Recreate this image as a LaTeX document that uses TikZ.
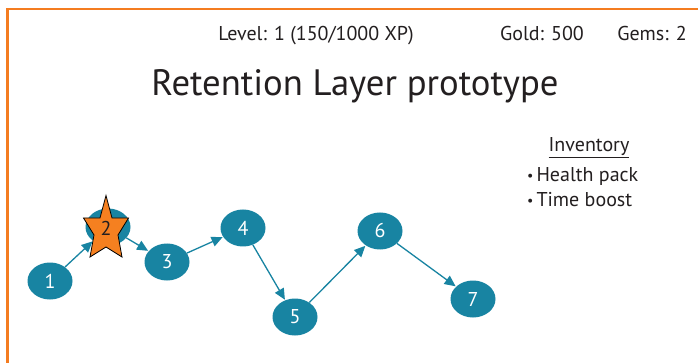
\documentclass[tikz,border=0pt]{standalone}
\usepackage{fontspec}
\setmainfont{PT Sans}
\usetikzlibrary{arrows.meta,shapes.geometric}
\definecolor{teal}{RGB}{24,132,162}
\definecolor{frameorange}{RGB}{244,124,32}
\definecolor{starorange}{RGB}{245,128,32}
\definecolor{ink}{RGB}{35,31,32}
\newcommand{\smallbullet}{\raisebox{0.5pt}{\fontsize{14}{14}\selectfont\textbullet}}
\tikzset{
  level/.style={ellipse, fill=teal, minimum width=45pt, minimum height=37pt,
    inner sep=0pt, text=white, font=\fontsize{20}{20}\selectfont},
  link/.style={draw=teal, line width=1.3pt, -{Triangle[length=11pt,width=10pt]}, shorten >=0.5pt},
  label/.style={text=ink, inner sep=0pt, anchor=base, font=\fontsize{20}{20}\selectfont},
}
\begin{document}
\begin{tikzpicture}[x=1pt,y=-1pt]
\useasboundingbox (0,0) rectangle (698,363);
\fill[white] (0,0) rectangle (698,363);
% slide frame
\draw[frameorange, line width=2.6pt] (7.5,370) -- (7.5,9) -- (705,9);

% header
\node[label] (lvl) at (316,41) {Level: 1 (150/1000 XP)};
\node[label] (gold) at (542,41) {Gold: 500};
\node[label] (gems) at (652,41) {Gems: 2};
\node[label, font=\fontsize{36.7}{36.7}\selectfont] (title) at (355,96) {Retention Layer prototype};

% inventory
\node[label] (inv) at (589,152) {\underline{Inventory}};
\node[label, anchor=base west] (hp) at (527,181.5) {\smallbullet\hspace{3pt}Health pack};
\node[label, anchor=base west] (tb) at (527,206.5) {\smallbullet\hspace{3pt}Time boost};

% level path
\node[level] (n1) at (50,281) {1};
\node[level] (n2) at (108,227) {};
\node[level] (n3) at (167,262) {3};
\node[level] (n4) at (243,228) {4};
\node[level] (n5) at (295,317) {5};
\node[level] (n6) at (380,231) {6};
\node[level] (n7) at (473,299) {7};

% current position marker
\filldraw[fill=starorange, draw=black, line width=0.8pt, line join=miter]
  (106,195.5) -- (112,218) -- (128.5,218) -- (118,235) -- (122,257) --
  (106,247) -- (90,257) -- (94,235) -- (83.5,218) -- (100,218) -- cycle;
\node[text=ink, inner sep=0pt, font=\fontsize{20}{20}\selectfont] (cur) at (106,228) {2};

\draw[link] (n1) -- (n2);
\draw[link] (n2) -- (n3);
\draw[link] (n3) -- (n4);
\draw[link] (n4) -- (n5);
\draw[link] (n5) -- (n6);
\draw[link] (n6) -- (n7);
\end{tikzpicture}
\end{document}
